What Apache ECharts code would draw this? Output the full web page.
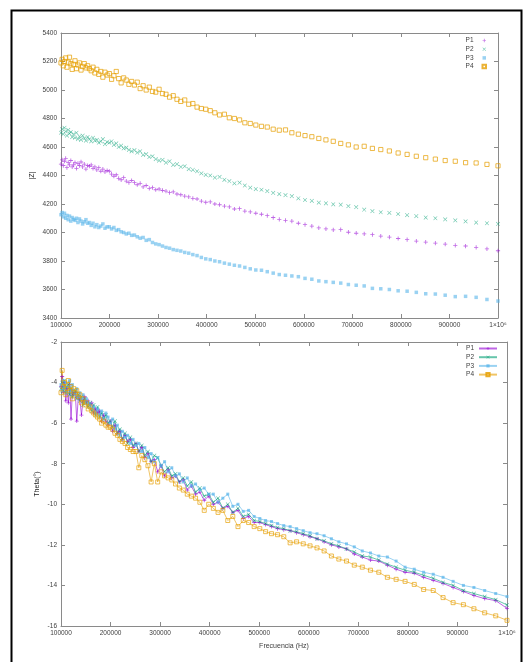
<!DOCTYPE html>
<html><head><meta charset="utf-8">
<script src="https://cdn.jsdelivr.net/npm/echarts@6/dist/echarts.min.js"></script>
<style>html,body{margin:0;padding:0;background:#fff}#c{width:525px;height:662px}</style>
</head><body><div id="c"></div>
<script>
// Frequencies (Hz), log-spaced sweep
const freq = [100000,102330,104710,107150,109650,112200,114820,117490,120230,123030,
125890,128820,131830,134900,138040,141250,144540,147910,151360,154880,
158490,162180,165960,169820,173780,177830,181970,186210,190550,194980,
199530,204170,208930,213800,218780,223870,229090,234420,239880,245470,
251190,257040,263030,269150,275420,281840,288400,295120,302000,309030,
316230,323590,331130,338840,346740,354810,363080,371540,380190,389050,
398110,407380,416870,426580,436520,446680,457090,467740,478630,489780,
501190,512860,524810,537030,549540,562340,575440,588840,602560,616600,
630960,645650,660690,676080,691830,707950,724440,741310,758580,776250,
794330,812830,831760,851140,870960,891250,912010,933250,954990,977240,1000000];

// |Z| per probe
const zP1 = [4480,4510,4470,4500,4520,4455,4490,4475,4505,4460,
4475,4490,4450,4485,4470,4495,4460,4480,4445,4470,
4465,4475,4450,4460,4440,4455,4430,4445,4425,4435,
4430,4410,4395,4405,4380,4370,4385,4360,4350,4365,
4350,4335,4345,4320,4330,4310,4315,4300,4305,4295,
4290,4280,4285,4270,4265,4255,4250,4240,4235,4220,
4212,4215,4200,4195,4185,4180,4165,4168,4150,4145,
4135,4128,4118,4105,4092,4085,4080,4065,4055,4045,
4032,4025,4018,4020,4002,3995,3990,3985,3975,3968,
3958,3950,3940,3932,3925,3918,3910,3905,3896,3885,3872];
const zP2 = [4700,4725,4690,4735,4710,4680,4720,4695,4705,4670,
4690,4665,4700,4655,4675,4650,4680,4660,4645,4670,
4655,4640,4665,4645,4650,4630,4640,4655,4620,4635,
4630,4640,4615,4625,4600,4610,4590,4595,4580,4570,
4578,4560,4570,4545,4550,4530,4535,4515,4505,4510,
4490,4500,4475,4480,4460,4465,4445,4440,4430,4415,
4405,4400,4385,4390,4370,4360,4345,4350,4330,4315,
4305,4300,4290,4278,4270,4262,4255,4240,4228,4222,
4210,4205,4198,4195,4185,4178,4160,4150,4142,4138,
4130,4122,4115,4105,4100,4092,4085,4078,4070,4065,4060];
const zP3 = [4125,4140,4110,4135,4100,4120,4090,4115,4080,4105,
4092,4085,4100,4070,4095,4080,4060,4075,4090,4065,
4070,4050,4065,4040,4055,4035,4045,4060,4030,4040,
4040,4025,4035,4015,4020,4005,4000,3990,3995,3980,
3982,3970,3960,3965,3945,3950,3930,3920,3915,3905,
3895,3890,3880,3875,3870,3860,3855,3845,3838,3825,
3815,3810,3800,3795,3785,3778,3770,3765,3755,3745,
3737,3735,3725,3715,3705,3700,3695,3690,3678,3672,
3660,3655,3650,3645,3635,3630,3625,3608,3605,3600,
3591,3588,3580,3570,3568,3560,3550,3552,3545,3530,3519];
const zP4 = [5190,5215,5170,5200,5225,5160,5195,5230,5185,5145,
5180,5205,5150,5175,5190,5140,5165,5185,5155,5170,
5150,5135,5160,5120,5145,5110,5130,5090,5125,5105,
5115,5075,5100,5130,5080,5050,5085,5070,5040,5060,
5035,5055,5010,5030,5000,5020,4990,4985,5005,4975,
4970,4950,4960,4935,4920,4930,4900,4905,4880,4870,
4865,4855,4840,4825,4830,4805,4800,4790,4770,4765,
4754,4745,4740,4725,4718,4720,4700,4690,4680,4672,
4660,4650,4640,4625,4615,4600,4605,4590,4582,4572,
4558,4548,4535,4525,4515,4505,4500,4490,4488,4478,4468];

// Theta (degrees) per probe
const thP1 = [-4.2,-3.7,-4.5,-4.0,-4.9,-4.3,-5.0,-4.1,-5.8,-4.4,
-4.6,-4.5,-5.9,-4.7,-4.8,-5.6,-4.9,-4.7,-5.0,-4.9,
-5.1,-5.0,-5.5,-5.3,-5.5,-5.4,-5.9,-5.6,-5.9,-6.1,
-5.9,-6.4,-6.1,-6.5,-6.4,-6.8,-6.6,-6.9,-6.8,-7.2,
-7.0,-7.4,-7.2,-7.7,-7.5,-7.9,-7.8,-8.4,-8.1,-8.6,
-8.3,-8.7,-8.6,-8.9,-8.8,-9.3,-9.1,-9.5,-9.4,-9.8,
-9.6,-10.0,-9.9,-10.2,-10.1,-10.4,-10.3,-10.7,-10.6,-10.9,
-10.9,-11.0,-11.1,-11.2,-11.25,-11.3,-11.4,-11.5,-11.6,-11.7,
-11.85,-12.0,-12.1,-12.2,-12.45,-12.6,-12.75,-12.8,-13.0,-13.2,
-13.35,-13.4,-13.6,-13.75,-13.9,-14.1,-14.3,-14.5,-14.65,-14.75,-15.13];
const thP2 = [-4.3,-4.0,-4.4,-3.9,-4.5,-4.2,-4.1,-4.6,-4.3,-4.7,
-4.5,-4.4,-4.8,-4.6,-4.9,-4.7,-5.1,-4.8,-5.0,-5.2,
-5.0,-5.4,-5.1,-5.6,-5.2,-5.7,-5.5,-5.8,-5.6,-6.0,
-5.9,-6.2,-5.9,-6.5,-6.3,-6.8,-6.5,-7.0,-6.7,-7.1,
-7.0,-7.4,-7.1,-7.6,-7.4,-7.9,-7.6,-7.7,-8.1,-8.4,
-8.2,-8.6,-8.5,-8.9,-8.7,-9.1,-8.9,-9.4,-9.2,-9.6,
-9.5,-9.9,-9.7,-10.2,-10.0,-10.4,-10.2,-10.6,-10.5,-10.8,
-10.85,-10.95,-11.05,-11.15,-11.2,-11.3,-11.35,-11.45,-11.55,-11.7,
-11.8,-11.95,-12.05,-12.2,-12.35,-12.55,-12.6,-12.75,-12.95,-13.1,
-13.25,-13.35,-13.5,-13.65,-13.85,-14.0,-14.25,-14.4,-14.55,-14.7,-14.96];
const thP3 = [-4.1,-4.4,-3.9,-4.3,-4.0,-4.5,-4.2,-3.9,-4.4,-4.1,
-4.4,-4.6,-4.3,-4.7,-4.5,-4.8,-4.6,-5.0,-4.8,-5.0,
-5.1,-5.3,-5.2,-5.5,-5.3,-5.6,-5.4,-5.8,-5.5,-5.7,
-6.0,-5.8,-6.3,-6.1,-6.6,-6.4,-6.7,-6.6,-7.0,-6.8,
-7.1,-7.0,-7.4,-7.2,-7.7,-7.5,-7.9,-7.7,-8.1,-7.9,
-8.4,-8.2,-8.6,-8.5,-8.9,-8.7,-9.1,-9.0,-9.3,-9.2,
-9.5,-9.5,-9.9,-9.7,-9.5,-10.1,-10.0,-10.35,-10.3,-10.6,
-10.7,-10.8,-10.85,-10.95,-11.05,-11.1,-11.2,-11.3,-11.4,-11.45,
-11.55,-11.7,-11.85,-11.95,-12.1,-12.3,-12.4,-12.55,-12.6,-12.8,
-13.1,-13.2,-13.35,-13.45,-13.6,-13.8,-14.0,-14.1,-14.25,-14.4,-14.55];
const thP4 = [-4.5,-3.4,-4.2,-4.0,-4.6,-4.3,-3.9,-4.4,-4.2,-4.8,
-4.3,-4.5,-4.4,-4.7,-4.6,-5.0,-4.8,-5.1,-5.0,-5.3,
-5.2,-5.4,-5.5,-5.6,-5.7,-5.8,-6.0,-5.9,-6.1,-6.2,
-6.2,-6.3,-6.5,-6.6,-6.8,-6.9,-7.0,-7.2,-7.3,-7.4,
-7.4,-8.2,-7.6,-7.8,-8.1,-8.9,-8.0,-8.9,-8.4,-8.6,
-8.7,-8.8,-9.0,-9.2,-9.3,-9.5,-9.6,-9.7,-9.9,-10.3,
-10.0,-10.2,-10.4,-10.3,-10.8,-10.6,-11.1,-10.8,-10.9,-11.1,
-11.2,-11.35,-11.45,-11.5,-11.6,-11.9,-11.85,-11.95,-12.05,-12.15,
-12.3,-12.55,-12.7,-12.8,-13.0,-13.1,-13.25,-13.35,-13.6,-13.7,
-13.8,-13.95,-14.2,-14.25,-14.6,-14.85,-14.95,-15.15,-15.35,-15.5,-15.72];

const seriesNames = ['P1','P2','P3','P4'];
const colors = ['#9400d3','#009e73','#56b4e9','#e69f00'];
const xMin = 100000, xMax = 1000000, xStep = 100000;
const zMin = 3400, zMax = 5400, zStep = 200;
const thMin = -16, thMax = -2, thStep = 2;
const xLastLabel = '1×10⁶';
const zTitle = '|Z|', thTitle = 'Theta(°)', xTitle = 'Frecuencia (Hz)';

const PLUS = 'path://M4,0H6V4H10V6H6V10H4V6H0V4H4Z';
const CROSS = 'path://M1,0L5,4L9,0L10,1L6,5L10,9L9,10L5,6L1,10L0,9L4,5L0,1Z';
const symbols = [PLUS, CROSS, 'rect', 'rect'];

const FONT = 'Liberation Sans';
const axisGrey = '#8a8a8a';
const labelCol = '#404040';

function xAxisDef(grid, pos, showLabel, name) {
  return {
    type:'value', gridIndex:grid, position:pos, min:xMin, max:xMax, interval:xStep,
    axisLine:{show:true, onZero:false, lineStyle:{color:axisGrey, width:1}},
    axisTick:{show:true, inside:true, length:4, lineStyle:{color:axisGrey}},
    splitLine:{show:false},
    axisLabel:{show:showLabel, margin:4, fontSize:6.5, fontFamily:FONT, color:labelCol,
      formatter: v => v === xMax ? xLastLabel : String(v)},
    name: name || '', nameLocation:'middle', nameGap:17, nameMoveOverlap:false,
    nameTextStyle:{fontSize:7, fontFamily:FONT, color:labelCol}
  };
}
function yAxisDef(grid, pos, showLabel, min, max, step, name, gap) {
  return {
    type:'value', gridIndex:grid, position:pos, min:min, max:max, interval:step,
    axisLine:{show:true, onZero:false, lineStyle:{color:axisGrey, width:1}},
    axisTick:{show:true, inside:true, length:4, lineStyle:{color:axisGrey}},
    splitLine:{show:false},
    axisLabel:{show:showLabel, margin:4, fontSize:6.5, fontFamily:FONT, color:labelCol,
      formatter: v => String(v)},
    name: name || '', nameLocation:'middle', nameGap:gap || 20, nameRotate:90, nameMoveOverlap:false,
    nameTextStyle:{fontSize:7, fontFamily:FONT, color:'#222'}
  };
}

const zData = [zP1, zP2, zP3, zP4];
const thData = [thP1, thP2, thP3, thP4];

const series = [];
seriesNames.forEach((n, i) => {
  const open = i === 3;
  series.push({
    name:n, type:'scatter', xAxisIndex:0, yAxisIndex:0,
    data: freq.map((f, j) => [f, zData[i][j]]),
    symbol: symbols[i], symbolSize: i === 2 ? 3.5 : 4.2,
    itemStyle: open ? {color:'rgba(0,0,0,0)', borderColor:colors[i], borderWidth:0.9, opacity:0.8}
                    : {color:colors[i], opacity:0.6},
    silent:true
  });
});
seriesNames.forEach((n, i) => {
  const open = i === 3;
  series.push({
    name:n + ' θ', type:'line', xAxisIndex:2, yAxisIndex:2,
    data: freq.map((f, j) => [f, thData[i][j]]),
    symbol: symbols[i], symbolSize: i === 2 ? 3 : 4, showSymbol:true,
    lineStyle:{color:colors[i], width:1, opacity:0.6},
    itemStyle: open ? {color:'rgba(0,0,0,0)', borderColor:colors[i], borderWidth:0.8, opacity:0.85}
                    : {color:colors[i], opacity:0.7},
    silent:true
  });
});

const chart = echarts.init(document.getElementById('c'), null, {renderer:'canvas'});
chart.setOption({
  animation:false,
  backgroundColor:'#fff',
  grid:[
    {left:61, top:33, width:437, height:285},
    {left:61, top:342, width:446, height:284}
  ],
  xAxis:[
    xAxisDef(0,'bottom',true),
    xAxisDef(0,'top',false),
    xAxisDef(1,'bottom',true,xTitle),
    xAxisDef(1,'top',false)
  ],
  yAxis:[
    yAxisDef(0,'left',true,zMin,zMax,zStep,zTitle,25),
    yAxisDef(0,'right',false,zMin,zMax,zStep),
    yAxisDef(1,'left',true,thMin,thMax,thStep,thTitle,20),
    yAxisDef(1,'right',false,thMin,thMax,thStep)
  ],
  legend:[
    {data:seriesNames, orient:'vertical', right:38, top:37, align:'right',
     itemWidth:3.5, itemHeight:3.5, itemGap:1.7, padding:0,
     textStyle:{fontSize:6.5, fontFamily:FONT, color:labelCol, lineHeight:7, padding:[0,4,0,0]}, selectedMode:false},
    {data:seriesNames.map(n => n + ' θ'), orient:'vertical', right:27, top:345, align:'right',
     itemWidth:18, itemHeight:4, itemGap:1.7, padding:0,
     formatter: n => n.split(' ')[0],
     textStyle:{fontSize:6.5, fontFamily:FONT, color:labelCol, lineHeight:7}, selectedMode:false}
  ],
  graphic:[
    {type:'rect', shape:{x:11.5, y:10.5, width:510, height:660}, style:{fill:'none', stroke:'#000', lineWidth:2}, silent:true}
  ],
  series: series
});
</script>
</body></html>
